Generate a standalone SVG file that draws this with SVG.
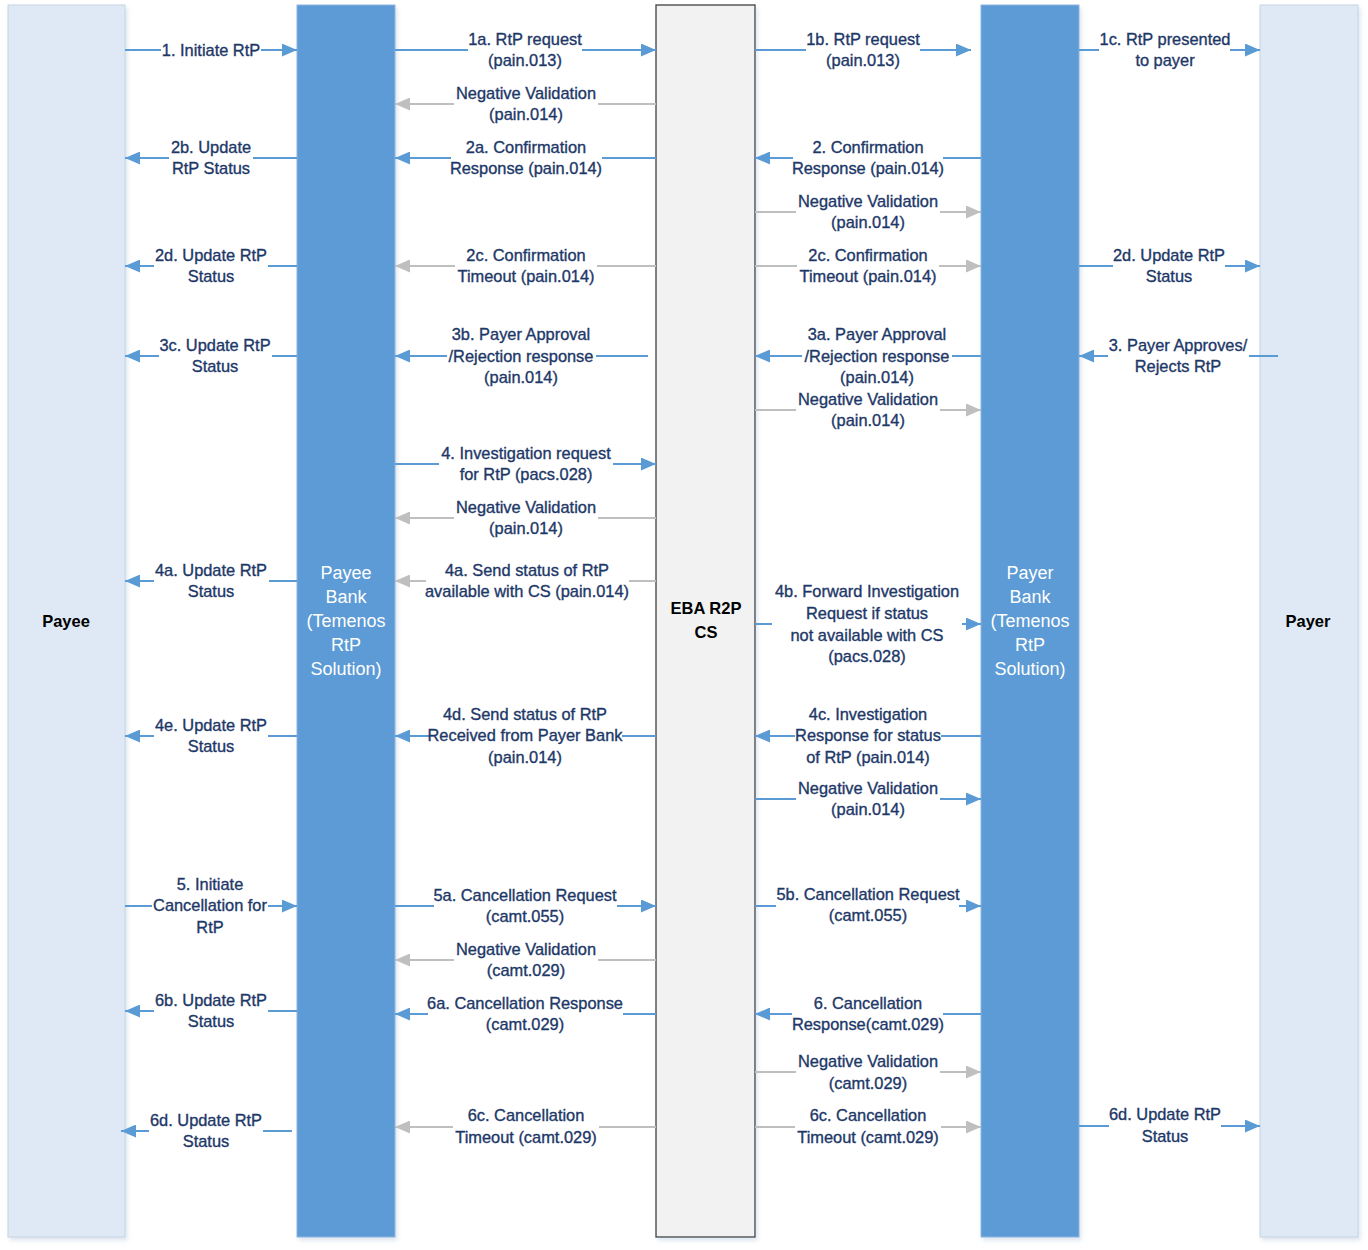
<svg xmlns="http://www.w3.org/2000/svg" width="1368" height="1250" viewBox="0 0 1368 1250">
<defs>
<style>
.lb{font-family:"Liberation Sans",Arial,sans-serif;font-size:16.4px;fill:#1d3868;stroke:#1d3868;stroke-width:0.35px;text-anchor:middle}
.bg{fill:#ffffff}
.bl{fill:none;stroke:#5b9bd5;stroke-width:2;marker-end:url(#ab)}
.gr{fill:none;stroke:#bfbfbf;stroke-width:2;marker-end:url(#ag)}
.bank{fill:#5b9bd5;stroke:#8fb6e0;stroke-width:1}
.party{fill:#dee9f5;stroke:#c6d4e4;stroke-width:1}
.cs{fill:#f2f2f2;stroke:#3f3f3f;stroke-width:1.3}
.bt{font-family:"Liberation Sans",Arial,sans-serif;font-size:18px;fill:#ffffff;text-anchor:middle}
.pt{font-family:"Liberation Sans",Arial,sans-serif;font-size:16.5px;font-weight:bold;fill:#000000;text-anchor:middle}
</style>
<marker id="ab" markerUnits="userSpaceOnUse" markerWidth="15" markerHeight="13" refX="15" refY="6.5" orient="auto"><path d="M0,0 L15,6.5 L0,13 z" fill="#5b9bd5"/></marker>
<marker id="ag" markerUnits="userSpaceOnUse" markerWidth="15" markerHeight="13" refX="15" refY="6.5" orient="auto"><path d="M0,0 L15,6.5 L0,13 z" fill="#bfbfbf"/></marker>
<filter id="sh" x="-10%" y="-2%" width="130%" height="104%"><feDropShadow dx="2" dy="3" stdDeviation="2" flood-color="#9fb8d6" flood-opacity="0.35"/></filter>
</defs>
<rect width="1368" height="1250" fill="#ffffff"/>

<g id="payee"><rect class="party" x="8" y="5" width="117" height="1232" filter="url(#sh)"/><text class="pt" x="66" y="627">Payee</text></g>
<g id="payee-bank"><rect class="bank" x="297" y="5" width="98" height="1232" filter="url(#sh)"/><text class="bt"><tspan x="346" y="579">Payee</tspan><tspan x="346" y="603">Bank</tspan><tspan x="346" y="627">(Temenos</tspan><tspan x="346" y="651">RtP</tspan><tspan x="346" y="675">Solution)</tspan></text></g>
<g id="eba-cs"><rect class="cs" x="656" y="5" width="99" height="1232" filter="url(#sh)"/><text class="pt"><tspan x="706" y="614">EBA R2P</tspan><tspan x="706" y="638">CS</tspan></text></g>
<g id="payer-bank"><rect class="bank" x="981" y="5" width="98" height="1232" filter="url(#sh)"/><text class="bt"><tspan x="1030" y="579">Payer</tspan><tspan x="1030" y="603">Bank</tspan><tspan x="1030" y="627">(Temenos</tspan><tspan x="1030" y="651">RtP</tspan><tspan x="1030" y="675">Solution)</tspan></text></g>
<g id="payer"><rect class="party" x="1260" y="5" width="98" height="1232" filter="url(#sh)"/><text class="pt" x="1308" y="627">Payer</text></g>

<g id="connectors">
<!-- Payee <-> Payee Bank -->
<g id="c1"><path class="bl" d="M125,50 H297"/><rect class="bg" x="161" y="40" width="100" height="20"/><text class="lb" x="211" y="55.5">1. Initiate RtP</text></g>
<g id="c2b"><path class="bl" d="M297,158 H125"/><rect class="bg" x="169" y="137" width="84" height="41"/><text class="lb"><tspan x="211" y="152.5">2b. Update</tspan><tspan x="211" y="173.5">RtP Status</tspan></text></g>
<g id="c2d"><path class="bl" d="M297,266 H125"/><rect class="bg" x="154" y="245" width="114" height="41"/><text class="lb"><tspan x="211" y="260.5">2d. Update RtP</tspan><tspan x="211" y="281.5">Status</tspan></text></g>
<g id="c3c"><path class="bl" d="M297,356 H125"/><rect class="bg" x="159" y="335" width="113" height="41"/><text class="lb"><tspan x="215" y="350.5">3c. Update RtP</tspan><tspan x="215" y="371.5">Status</tspan></text></g>
<g id="c4a"><path class="bl" d="M297,581 H125"/><rect class="bg" x="154" y="560" width="115" height="41"/><text class="lb"><tspan x="211" y="575.5">4a. Update RtP</tspan><tspan x="211" y="596.5">Status</tspan></text></g>
<g id="c4e"><path class="bl" d="M297,736 H125"/><rect class="bg" x="154" y="715" width="114" height="41"/><text class="lb"><tspan x="211" y="730.5">4e. Update RtP</tspan><tspan x="211" y="751.5">Status</tspan></text></g>
<g id="c5"><path class="bl" d="M125,906 H297"/><rect class="bg" x="152" y="874" width="116" height="63"/><text class="lb"><tspan x="210" y="889.5">5. Initiate</tspan><tspan x="210" y="911">Cancellation for</tspan><tspan x="210" y="932.5">RtP</tspan></text></g>
<g id="c6b"><path class="bl" d="M297,1011 H125"/><rect class="bg" x="154" y="990" width="114" height="41"/><text class="lb"><tspan x="211" y="1005.5">6b. Update RtP</tspan><tspan x="211" y="1026.5">Status</tspan></text></g>
<g id="c6d"><path class="bl" d="M292,1131 H121"/><rect class="bg" x="149" y="1110" width="114" height="41"/><text class="lb"><tspan x="206" y="1125.5">6d. Update RtP</tspan><tspan x="206" y="1146.5">Status</tspan></text></g>

<!-- Payee Bank <-> EBA CS -->
<g id="c1a"><path class="bl" d="M395,50 H656"/><rect class="bg" x="468" y="29" width="114" height="41"/><text class="lb"><tspan x="525" y="44.5">1a. RtP request</tspan><tspan x="525" y="65.5">(pain.013)</tspan></text></g>
<g id="nv1"><path class="gr" d="M656,104 H395"/><rect class="bg" x="454" y="83" width="144" height="41"/><text class="lb"><tspan x="526" y="98.5">Negative Validation</tspan><tspan x="526" y="119.5">(pain.014)</tspan></text></g>
<g id="c2a"><path class="bl" d="M656,158 H395"/><rect class="bg" x="451" y="137" width="151" height="41"/><text class="lb"><tspan x="526" y="152.5">2a. Confirmation</tspan><tspan x="526" y="173.5">Response (pain.014)</tspan></text></g>
<g id="c2c"><path class="gr" d="M656,266 H395"/><rect class="bg" x="455" y="245" width="142" height="41"/><text class="lb"><tspan x="526" y="260.5">2c. Confirmation</tspan><tspan x="526" y="281.5">Timeout (pain.014)</tspan></text></g>
<g id="c3b"><path class="bl" d="M648,356 H395"/><rect class="bg" x="447" y="324" width="149" height="63"/><text class="lb"><tspan x="521" y="339.5">3b. Payer Approval</tspan><tspan x="521" y="361.5">/Rejection response</tspan><tspan x="521" y="382.5">(pain.014)</tspan></text></g>
<g id="c4"><path class="bl" d="M395,464 H656"/><rect class="bg" x="439" y="443" width="174" height="41"/><text class="lb"><tspan x="526" y="458.5">4. Investigation request</tspan><tspan x="526" y="479.5">for RtP (pacs.028)</tspan></text></g>
<g id="nv2"><path class="gr" d="M656,518 H395"/><rect class="bg" x="454" y="497" width="144" height="41"/><text class="lb"><tspan x="526" y="512.5">Negative Validation</tspan><tspan x="526" y="533.5">(pain.014)</tspan></text></g>
<g id="c4a-cs"><path class="gr" d="M656,581 H395"/><rect class="bg" x="426" y="560" width="203" height="41"/><text class="lb"><tspan x="527" y="575.5">4a. Send status of RtP</tspan><tspan x="527" y="596.5">available with CS (pain.014)</tspan></text></g>
<g id="c4d"><path class="bl" d="M656,736 H395"/><rect class="bg" x="429" y="704" width="193" height="63"/><text class="lb"><tspan x="525" y="719.5">4d. Send status of RtP</tspan><tspan x="525" y="740.5">Received from Payer Bank</tspan><tspan x="525" y="762.5">(pain.014)</tspan></text></g>
<g id="c5a"><path class="bl" d="M395,906 H656"/><rect class="bg" x="434" y="885" width="183" height="41"/><text class="lb"><tspan x="525" y="900.5">5a. Cancellation Request</tspan><tspan x="525" y="921.5">(camt.055)</tspan></text></g>
<g id="nv3"><path class="gr" d="M656,960 H395"/><rect class="bg" x="454" y="939" width="144" height="41"/><text class="lb"><tspan x="526" y="954.5">Negative Validation</tspan><tspan x="526" y="975.5">(camt.029)</tspan></text></g>
<g id="c6a"><path class="bl" d="M656,1014 H395"/><rect class="bg" x="428" y="993" width="195" height="41"/><text class="lb"><tspan x="525" y="1008.5">6a. Cancellation Response</tspan><tspan x="525" y="1029.5">(camt.029)</tspan></text></g>
<g id="c6c"><path class="gr" d="M656,1127 H395"/><rect class="bg" x="453" y="1105" width="146" height="42"/><text class="lb"><tspan x="526" y="1120.5">6c. Cancellation</tspan><tspan x="526" y="1142.5">Timeout (camt.029)</tspan></text></g>

<!-- EBA CS <-> Payer Bank -->
<g id="c1b"><path class="bl" d="M755,50 H971"/><rect class="bg" x="806" y="29" width="114" height="41"/><text class="lb"><tspan x="863" y="44.5">1b. RtP request</tspan><tspan x="863" y="65.5">(pain.013)</tspan></text></g>
<g id="c2"><path class="bl" d="M981,158 H755"/><rect class="bg" x="793" y="137" width="150" height="41"/><text class="lb"><tspan x="868" y="152.5">2. Confirmation</tspan><tspan x="868" y="173.5">Response (pain.014)</tspan></text></g>
<g id="nv4"><path class="gr" d="M755,212 H981"/><rect class="bg" x="796" y="191" width="144" height="41"/><text class="lb"><tspan x="868" y="206.5">Negative Validation</tspan><tspan x="868" y="227.5">(pain.014)</tspan></text></g>
<g id="c2c-pb"><path class="gr" d="M755,266 H981"/><rect class="bg" x="797" y="245" width="142" height="41"/><text class="lb"><tspan x="868" y="260.5">2c. Confirmation</tspan><tspan x="868" y="281.5">Timeout (pain.014)</tspan></text></g>
<g id="c3a"><path class="bl" d="M981,356 H755"/><rect class="bg" x="802" y="324" width="150" height="63"/><text class="lb"><tspan x="877" y="339.5">3a. Payer Approval</tspan><tspan x="877" y="361.5">/Rejection response</tspan><tspan x="877" y="382.5">(pain.014)</tspan></text></g>
<g id="nv5"><path class="gr" d="M755,410 H981"/><rect class="bg" x="796" y="389" width="144" height="41"/><text class="lb"><tspan x="868" y="404.5">Negative Validation</tspan><tspan x="868" y="425.5">(pain.014)</tspan></text></g>
<g id="c4b"><path class="bl" d="M755,624 H981"/><rect class="bg" x="772" y="581" width="190" height="85"/><text class="lb"><tspan x="867" y="596.5">4b. Forward Investigation</tspan><tspan x="867" y="618.5">Request if status</tspan><tspan x="867" y="640.5">not available with CS</tspan><tspan x="867" y="661.5">(pacs.028)</tspan></text></g>
<g id="c4c"><path class="bl" d="M981,736 H755"/><rect class="bg" x="795" y="704" width="146" height="63"/><text class="lb"><tspan x="868" y="719.5">4c. Investigation</tspan><tspan x="868" y="740.5">Response for status</tspan><tspan x="868" y="762.5">of RtP (pain.014)</tspan></text></g>
<g id="nv6"><path class="bl" d="M755,799 H981"/><rect class="bg" x="796" y="778" width="144" height="41"/><text class="lb"><tspan x="868" y="793.5">Negative Validation</tspan><tspan x="868" y="814.5">(pain.014)</tspan></text></g>
<g id="c5b"><path class="bl" d="M755,906 H981"/><rect class="bg" x="776" y="884" width="183" height="41"/><text class="lb"><tspan x="868" y="899.5">5b. Cancellation Request</tspan><tspan x="868" y="920.5">(camt.055)</tspan></text></g>
<g id="c6"><path class="bl" d="M981,1014 H755"/><rect class="bg" x="792" y="993" width="151" height="41"/><text class="lb"><tspan x="868" y="1008.5">6. Cancellation</tspan><tspan x="868" y="1029.5">Response(camt.029)</tspan></text></g>
<g id="nv7"><path class="gr" d="M755,1072 H981"/><rect class="bg" x="796" y="1051" width="144" height="42"/><text class="lb"><tspan x="868" y="1066.5">Negative Validation</tspan><tspan x="868" y="1088.5">(camt.029)</tspan></text></g>
<g id="c6c-pb"><path class="gr" d="M755,1127 H981"/><rect class="bg" x="795" y="1105" width="146" height="42"/><text class="lb"><tspan x="868" y="1120.5">6c. Cancellation</tspan><tspan x="868" y="1142.5">Timeout (camt.029)</tspan></text></g>

<!-- Payer Bank <-> Payer -->
<g id="c1c"><path class="bl" d="M1079,50 H1260"/><rect class="bg" x="1099" y="29" width="131" height="41"/><text class="lb"><tspan x="1165" y="44.5">1c. RtP presented</tspan><tspan x="1165" y="65.5">to payer</tspan></text></g>
<g id="c2d-payer"><path class="bl" d="M1079,266 H1260"/><rect class="bg" x="1113" y="245" width="112" height="41"/><text class="lb"><tspan x="1169" y="260.5">2d. Update RtP</tspan><tspan x="1169" y="281.5">Status</tspan></text></g>
<g id="c3"><path class="bl" d="M1278,356 H1079"/><rect class="bg" x="1108" y="335" width="141" height="41"/><text class="lb"><tspan x="1178" y="350.5">3. Payer Approves/</tspan><tspan x="1178" y="371.5">Rejects RtP</tspan></text></g>
<g id="c6d-payer"><path class="bl" d="M1079,1126 H1260"/><rect class="bg" x="1109" y="1104" width="112" height="42"/><text class="lb"><tspan x="1165" y="1119.5">6d. Update RtP</tspan><tspan x="1165" y="1141.5">Status</tspan></text></g>
</g>
</svg>
